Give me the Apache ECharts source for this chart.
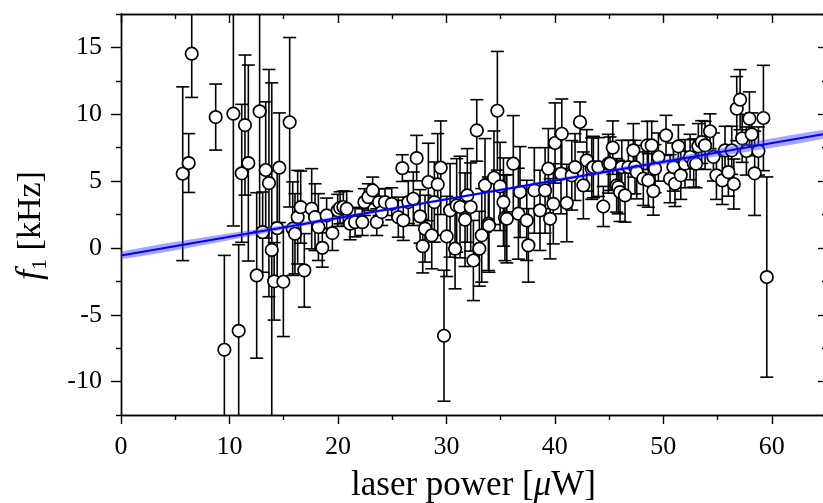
<!DOCTYPE html>
<html>
<head>
<meta charset="utf-8">
<script src="https://cdn.jsdelivr.net/npm/echarts@6/dist/echarts.min.js"></script>
<style>html,body{margin:0;padding:0;background:#fff}#c{width:823px;height:503px}</style>
</head>
<body>
<div id="c"></div>
<script>
// laser power [µW]
const powerX = [5.69,6.24,6.52,8.73,9.53,10.36,10.85,11.13,11.43,11.74,12.51,12.78,13.06,13.34,13.64,13.9,14.12,14.4,14.6,14.97,15.55,15.83,
16.04,16.29,16.57,16.9,17.58,17.89,18.2,18.56,18.96,19.49,19.98,20.2,20.5,20.81,21.12,21.58,22.25,22.44,22.8,23.2,23.58,23.79,24.04,
24.34,24.96,25.57,25.94,26.03,26.49,26.95,27.26,27.57,27.82,28.03,28.34,28.65,28.89,29.2,29.48,29.78,30.03,30.34,30.8,30.95,31.26,31.72,31.93,32.24,32.49,32.8,33.04,33.26,33.56,33.87,
33.93,34.39,34.7,34.95,35.26,35.4,35.57,36.17,36.64,36.79,37.41,37.56,38.11,38.63,39.1,39.4,39.56,39.86,40.02,40.57,40.64,41.1,41.56,41.86,42.32,42.63,42.94,43.4,43.55,44.01,44.47,
44.93,45.09,45.34,45.7,45.85,46.01,46.17,46.47,46.78,47.24,47.39,47.55,48.16,48.53,48.62,48.93,49.08,49.24,49.55,50.25,50.62,50.93,51.08,51.39,51.61,52.0,52.47,52.8,53.02,53.23,53.54,53.85,54.31,54.62,54.9,55.44,55.69,56.0,56.31,56.5,56.77,57.08,57.27,57.66,57.94,58.15,58.42,58.77,59.23,59.54];
// f1 [kHz]
const freqY = [5.55,6.35,14.53,9.79,-7.62,10.04,-6.2,5.58,9.19,6.35,-2.06,10.22,1.18,5.83,4.85,-0.15,-2.5,1.48,6.0,-2.53,9.4,1.44,
1.06,2.3,3.05,-1.68,2.93,2.3,1.56,0.01,2.43,1.11,2.81,3.0,3.06,2.93,1.81,1.93,1.93,3.43,3.8,4.3,1.93,3.43,2.68,
3.43,3.3,2.3,5.97,2.06,3.43,3.68,6.72,2.36,0.13,1.44,4.93,0.94,3.43,4.75,6.0,-6.57,0.86,2.81,-0.06,3.18,3.06,2.11,3.93,3.06,-0.94,8.79,-0.06,0.94,4.68,1.81,
1.68,5.25,10.26,4.6,3.43,2.25,2.18,6.3,2.56,4.18,2.06,0.19,4.3,2.81,4.3,5.93,2.18,3.3,7.85,5.55,8.54,3.36,5.43,6.05,9.42,4.68,6.55,5.93,6.05,6.05,3.1,
6.3,6.3,7.5,4.68,4.55,4.18,6.05,3.93,6.05,7.3,6.05,5.67,5.18,7.67,5.05,7.67,4.25,5.93,6.8,8.42,5.18,6.05,4.8,7.6,5.43,6.3,6.8,6.35,6.3,7.6,7.92,7.67,8.73,6.8,5.43,5.05,7.3,5.67,7.3,4.78,10.42,11.09,8.2,7.25,9.67,8.5,5.58,7.25,9.72,-2.18];
// uncertainty of f1 [kHz]
const freqErr = [6.5,2.2,3.27,2.47,7.06,8.4,6.44,5.16,5.24,7.33,6.19,9.0,3.0,5.1,8.5,12.5,2.9,4.3,4.1,4.1,6.34,3.5,
3.0,3.5,2.7,2.75,3.0,2.5,2.5,1.45,1.3,1.3,1.2,1.2,1.2,1.3,1.2,1.1,1.0,1.0,1.0,1.0,1.0,1.0,1.0,
1.0,1.2,1.5,1.0,1.5,1.6,2.0,1.7,2.0,2.0,2.5,2.9,2.5,3.0,3.8,3.5,4.9,3.0,3.5,3.0,3.5,3.8,3.5,3.5,3.3,3.0,2.3,2.8,3.5,3.5,3.5,
3.5,3.5,4.44,3.3,3.3,3.2,3.3,3.6,3.4,3.4,3.0,2.75,3.2,3.0,3.2,3.0,3.0,3.0,3.0,3.0,2.6,2.9,2.6,2.5,1.5,2.5,2.3,2.3,2.3,2.2,1.5,
2.2,2.0,2.0,2.0,2.0,2.2,2.0,2.0,2.0,2.0,2.0,2.0,2.0,1.8,2.0,1.8,1.8,1.8,1.8,1.5,1.8,1.8,1.7,1.6,1.8,1.8,1.7,1.8,1.8,1.7,1.6,1.8,1.3,1.8,1.8,1.8,1.8,1.8,1.8,1.87,2.4,2.25,1.8,1.8,2.0,1.6,3.15,1.8,3.94,7.49];
// linear fit and its confidence band
const fitX = [0, 65];
const fitY = [-0.56, 8.54];
const bandX = [0, 16, 32, 48, 65];
const bandHalf = [0.28, 0.17, 0.1, 0.17, 0.32];
// axis ticks
const xMajor = [0, 10, 20, 30, 40, 50, 60];
const xMinor = [5, 15, 25, 35, 45, 55, 65];
const yMajor = [-10, -5, 0, 5, 10, 15];
const yMinor = [-12.5, -7.5, -2.5, 2.5, 7.5, 12.5, 17.5];
const X_MIN = 0, X_MAX = 65, Y_MIN = -12.5, Y_MAX = 17.5;

const FONT = 'Liberation Serif';
const chart = echarts.init(document.getElementById('c'), null, {renderer: 'canvas'});
const axLine = {show: true, onZero: false, lineStyle: {color: '#000', width: 1.4}};
const tickStyle = {color: '#000', width: 1.4};

function xAx(pos, vals, len, inside, labels, extra) {
  return Object.assign({
    type: 'value', position: pos, min: X_MIN, max: X_MAX,
    axisLine: axLine,
    axisTick: {show: true, customValues: vals, length: len, inside: inside, lineStyle: tickStyle},
    axisLabel: labels ? {show: true, customValues: vals, fontFamily: FONT, fontSize: 26, color: '#000', margin: 19} : {show: false},
    splitLine: {show: false}
  }, extra || {});
}
function yAx(pos, vals, len, inside, labels, extra) {
  return Object.assign({
    type: 'value', position: pos, min: Y_MIN, max: Y_MAX,
    axisLine: axLine,
    axisTick: {show: true, customValues: vals, length: len, inside: inside, lineStyle: tickStyle},
    axisLabel: labels ? {show: true, customValues: vals, fontFamily: FONT, fontSize: 26, color: '#000', margin: 19} : {show: false},
    splitLine: {show: false}
  }, extra || {});
}

const pts = powerX.map((x, i) => [x, freqY[i], freqErr[i]]);

chart.setOption({
  animation: false,
  backgroundColor: '#fff',
  grid: {left: 121, top: 14, right: -3, bottom: 88, containLabel: false, outerBoundsMode: 'none'},
  xAxis: [
    xAx('bottom', xMajor, 9, false, true, {
      name: 'laser power [{mu|μ}W]', nameLocation: 'middle', nameGap: 53,
      nameTextStyle: {fontFamily: FONT, fontSize: 35, color: '#000',
        rich: {mu: {fontFamily: FONT, fontSize: 35, fontStyle: 'italic', color: '#000'}}}
    }),
    xAx('bottom', xMinor, 5, false, false),
    xAx('top', xMajor, 9, true, false),
    xAx('top', xMinor, 5, true, false)
  ],
  yAxis: [
    yAx('left', yMajor, 10, false, true, {
      name: '{f|f}{s|1} [kHz]', nameLocation: 'middle', nameGap: 70,
      nameTextStyle: {fontFamily: FONT, fontSize: 34, color: '#000', padding: [0, 22, 0, 0],
        rich: {
          f: {fontFamily: FONT, fontSize: 36, fontStyle: 'italic', color: '#000', lineHeight: 40},
          s: {fontFamily: FONT, fontSize: 22, color: '#000', verticalAlign: 'bottom', lineHeight: 22}
        }}
    }),
    yAx('left', yMinor, 5, false, false),
    yAx('right', yMajor, 8, true, false),
    yAx('right', yMinor, 4, true, false)
  ],
  series: [
    {
      type: 'custom', name: 'errors', xAxisIndex: 0, yAxisIndex: 0, z: 2, silent: true,
      data: pts, encode: {x: 0, y: 1},
      renderItem: function (params, api) {
        const x = api.value(0), y = api.value(1), e = api.value(2);
        const lo = y - e, hi = y + e;
        const pLo = api.coord([x, Math.max(lo, Y_MIN)]);
        const pHi = api.coord([x, Math.min(hi, Y_MAX)]);
        const st = {stroke: '#000', lineWidth: 1.6, fill: null};
        const ch = [{type: 'line', shape: {x1: pLo[0], y1: pLo[1], x2: pHi[0], y2: pHi[1]}, style: st}];
        const hw = 6.5;
        if (lo >= Y_MIN) ch.push({type: 'line', shape: {x1: pLo[0] - hw, y1: pLo[1], x2: pLo[0] + hw, y2: pLo[1]}, style: st});
        if (hi <= Y_MAX) ch.push({type: 'line', shape: {x1: pHi[0] - hw, y1: pHi[1], x2: pHi[0] + hw, y2: pHi[1]}, style: st});
        return {type: 'group', children: ch};
      }
    },
    {
      type: 'scatter', name: 'data', xAxisIndex: 0, yAxisIndex: 0, z: 3, silent: true,
      data: pts.map(p => [p[0], p[1]]),
      symbol: 'circle', symbolSize: 12.5,
      itemStyle: {color: '#fff', borderColor: '#000', borderWidth: 1.7, opacity: 1}
    },
    {
      type: 'custom', name: 'band', xAxisIndex: 0, yAxisIndex: 0, z: 4, silent: true,
      data: [[0, 0]], clip: true,
      renderItem: function (params, api) {
        const slope = (fitY[1] - fitY[0]) / (fitX[1] - fitX[0]);
        const upper = [], lower = [];
        bandX.forEach((bx, i) => {
          const c = fitY[0] + slope * (bx - fitX[0]);
          upper.push(api.coord([bx, c + bandHalf[i]]));
          lower.unshift(api.coord([bx, c - bandHalf[i]]));
        });
        return {type: 'polygon', shape: {points: upper.concat(lower), smooth: 0.3},
          style: {fill: 'rgba(60,60,255,0.45)', stroke: null}};
      }
    },
    {
      type: 'line', name: 'fit', xAxisIndex: 0, yAxisIndex: 0, z: 5, silent: true,
      data: fitX.map((x, i) => [x, fitY[i]]),
      showSymbol: false, symbol: 'none',
      lineStyle: {color: '#0000ff', width: 2}
    }
  ]
});
</script>
</body>
</html>
